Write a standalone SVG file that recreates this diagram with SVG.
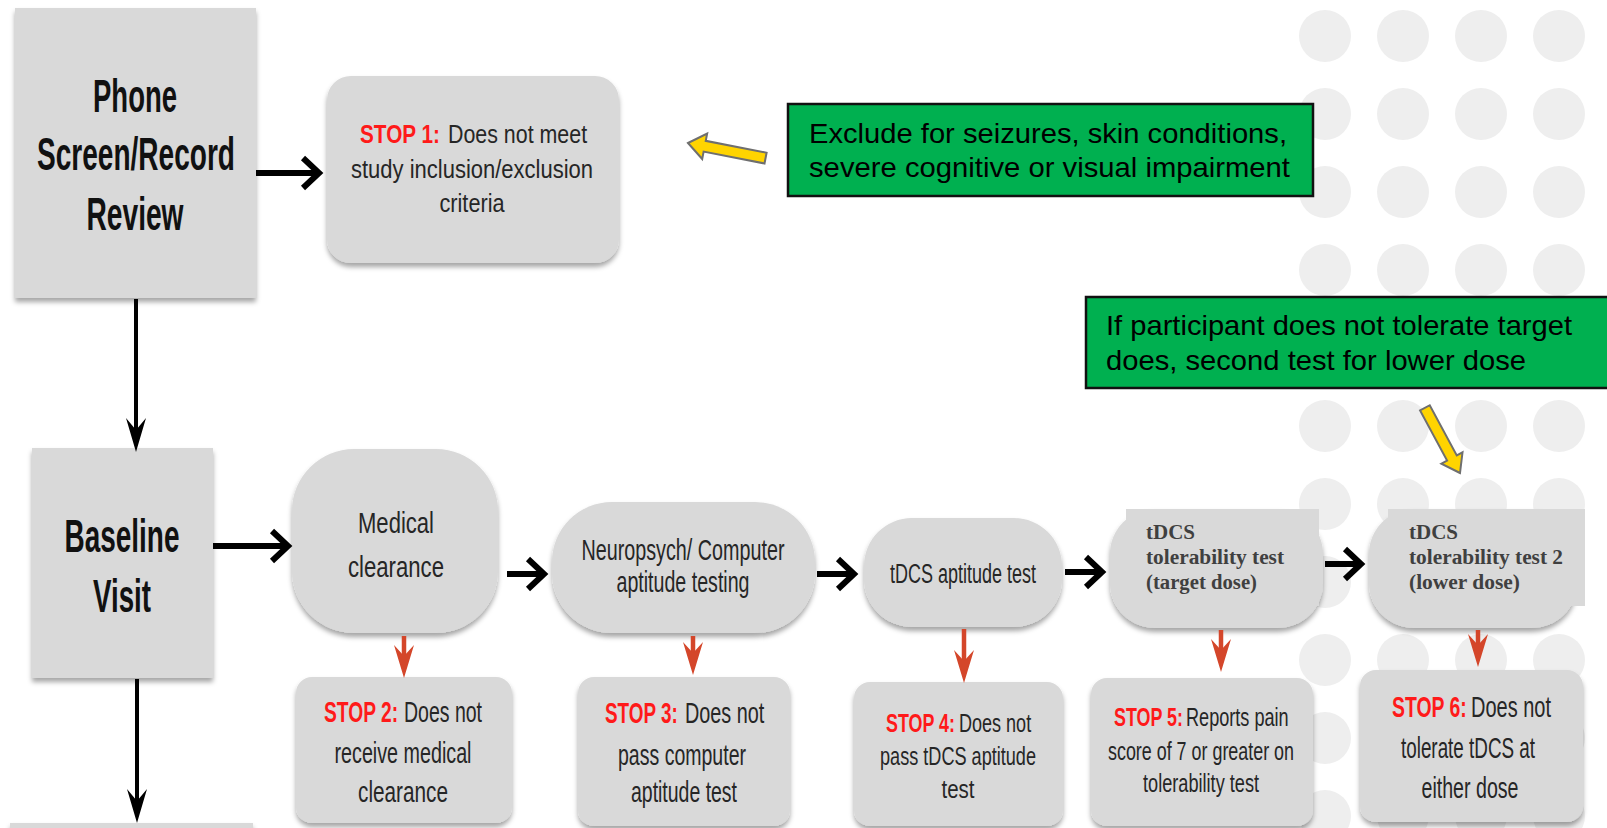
<svg xmlns="http://www.w3.org/2000/svg" width="1607" height="828" viewBox="0 0 1607 828">
<defs>
<style>
.bg{fill:#eeeeee}
.nd{fill:#d9d9d9;filter:url(#sh)}
.ov{fill:#d9d9d9}
.t{font-family:"Liberation Sans Narrow","Liberation Sans",Arial,sans-serif;fill:#262626}
.big{font-family:"Liberation Sans Narrow","Liberation Sans",Arial,sans-serif;font-weight:bold;font-size:46px;fill:#111}
.red{font-family:"Liberation Sans Narrow","Liberation Sans",Arial,sans-serif;fill:#ff1a1a;font-weight:bold}
.tm{font-family:"Liberation Serif","Times New Roman",serif;font-weight:bold;font-size:20px;fill:#404040}
.gr{fill:#00b050;stroke:#111;stroke-width:2.5}
.gt{font-family:"Liberation Sans",Arial,sans-serif;font-size:28px;fill:#000}
.ya{fill:#ffd400;stroke:#6f6f6f;stroke-width:2;stroke-linejoin:miter}
.ch{fill:none;stroke:#000;stroke-width:6;marker-end:url(#hb)}
.cv{fill:none;stroke:#000;stroke-width:4;marker-end:url(#vb)}
.cr{fill:none;stroke:#d4462a;stroke-width:4.5;marker-end:url(#rb)}
</style>
<filter id="sh" x="-10%" y="-10%" width="120%" height="130%">
<feDropShadow dx="0" dy="4" stdDeviation="2.5" flood-color="#000" flood-opacity="0.35"/>
</filter>
<marker id="hb" markerUnits="userSpaceOnUse" overflow="visible" orient="auto" refX="0" refY="0" markerWidth="30" markerHeight="40">
<path d="M-16,-15 L0,0 L-16,15" fill="none" stroke="#000" stroke-width="6"/>
</marker>
<marker id="vb" markerUnits="userSpaceOnUse" overflow="visible" orient="auto" refX="0" refY="0" markerWidth="40" markerHeight="24">
<path d="M20,0 L-14,-10 L-2,0 L-14,10 Z" fill="#000"/>
</marker>
<marker id="rb" markerUnits="userSpaceOnUse" overflow="visible" orient="auto" refX="0" refY="0" markerWidth="40" markerHeight="24">
<path d="M20,0 L-13,-10 L-2,0 L-13,10 Z" fill="#d4462a"/>
</marker>
</defs>
<rect width="1607" height="828" fill="#fff"/>
<g id="dots">
<circle class="bg" cx="1325" cy="36" r="26"/><circle class="bg" cx="1403" cy="36" r="26"/><circle class="bg" cx="1481" cy="36" r="26"/><circle class="bg" cx="1559" cy="36" r="26"/>
<circle class="bg" cx="1325" cy="114" r="26"/><circle class="bg" cx="1403" cy="114" r="26"/><circle class="bg" cx="1481" cy="114" r="26"/><circle class="bg" cx="1559" cy="114" r="26"/>
<circle class="bg" cx="1325" cy="192" r="26"/><circle class="bg" cx="1403" cy="192" r="26"/><circle class="bg" cx="1481" cy="192" r="26"/><circle class="bg" cx="1559" cy="192" r="26"/>
<circle class="bg" cx="1325" cy="270" r="26"/><circle class="bg" cx="1403" cy="270" r="26"/><circle class="bg" cx="1481" cy="270" r="26"/><circle class="bg" cx="1559" cy="270" r="26"/>
<circle class="bg" cx="1325" cy="348" r="26"/><circle class="bg" cx="1403" cy="348" r="26"/><circle class="bg" cx="1481" cy="348" r="26"/><circle class="bg" cx="1559" cy="348" r="26"/>
<circle class="bg" cx="1325" cy="426" r="26"/><circle class="bg" cx="1403" cy="426" r="26"/><circle class="bg" cx="1481" cy="426" r="26"/><circle class="bg" cx="1559" cy="426" r="26"/>
<circle class="bg" cx="1325" cy="504" r="26"/><circle class="bg" cx="1403" cy="504" r="26"/><circle class="bg" cx="1481" cy="504" r="26"/><circle class="bg" cx="1559" cy="504" r="26"/>
<circle class="bg" cx="1325" cy="582" r="26"/><circle class="bg" cx="1403" cy="582" r="26"/><circle class="bg" cx="1481" cy="582" r="26"/><circle class="bg" cx="1559" cy="582" r="26"/>
<circle class="bg" cx="1325" cy="660" r="26"/><circle class="bg" cx="1403" cy="660" r="26"/><circle class="bg" cx="1481" cy="660" r="26"/><circle class="bg" cx="1559" cy="660" r="26"/>
<circle class="bg" cx="1325" cy="738" r="26"/><circle class="bg" cx="1403" cy="738" r="26"/><circle class="bg" cx="1481" cy="738" r="26"/><circle class="bg" cx="1559" cy="738" r="26"/>
<circle class="bg" cx="1325" cy="816" r="26"/><circle class="bg" cx="1403" cy="816" r="26"/><circle class="bg" cx="1481" cy="816" r="26"/><circle class="bg" cx="1559" cy="816" r="26"/>
</g>
<g id="phone">
<rect class="nd" x="15" y="8" width="241" height="290"/>
<text class="big" x="135" y="112" text-anchor="middle" textLength="84" lengthAdjust="spacingAndGlyphs">Phone</text>
<text class="big" x="136" y="170" text-anchor="middle" textLength="198" lengthAdjust="spacingAndGlyphs">Screen/Record</text>
<text class="big" x="135" y="230" text-anchor="middle" textLength="97" lengthAdjust="spacingAndGlyphs">Review</text>
</g>
<g id="stop1">
<rect class="nd" x="327" y="76" width="292" height="187" rx="24"/>
<text class="red" font-size="25" transform="translate(360,143) scale(0.65,1)" textLength="123" lengthAdjust="spacingAndGlyphs">STOP 1:</text>
<text class="t" font-size="25" transform="translate(448,143) scale(0.65,1)" textLength="214" lengthAdjust="spacingAndGlyphs">Does not meet</text>
<text class="t" font-size="25" x="472" y="178" text-anchor="middle" textLength="242" lengthAdjust="spacingAndGlyphs">study  inclusion/exclusion</text>
<text class="t" font-size="25" x="472" y="212" text-anchor="middle" textLength="65" lengthAdjust="spacingAndGlyphs">criteria</text>
</g>
<g id="note1">
<rect class="gr" x="788" y="104" width="525" height="92"/>
<text class="gt" x="809" y="143" textLength="478" lengthAdjust="spacingAndGlyphs">Exclude for seizures, skin conditions,</text>
<text class="gt" x="809" y="177" textLength="481" lengthAdjust="spacingAndGlyphs">severe cognitive or visual impairment</text>
</g>
<g id="arrow1">
<polygon class="ya" transform="translate(688,143) rotate(11)" points="0,0 17,-13 17,-5.5 79,-5.5 79,5.5 17,5.5 17,13"/>
</g>
<g id="note2">
<rect class="gr" x="1086" y="297" width="530" height="91"/>
<text class="gt" x="1106" y="335" textLength="466" lengthAdjust="spacingAndGlyphs">If participant does not tolerate target</text>
<text class="gt" x="1106" y="370" textLength="420" lengthAdjust="spacingAndGlyphs">does, second test for lower dose</text>
</g>
<g id="arrow2">
<polygon class="ya" transform="translate(1460,473) rotate(-118.3)" points="0,0 17,-12 17,-5.5 74,-5.5 74,5.5 17,5.5 17,12"/>
</g>
<g id="baseline">
<rect class="nd" x="32" y="448" width="181" height="230"/>
<text class="big" x="122" y="552" text-anchor="middle" textLength="115" lengthAdjust="spacingAndGlyphs">Baseline</text>
<text class="big" x="122" y="612" text-anchor="middle" textLength="58" lengthAdjust="spacingAndGlyphs">Visit</text>
</g>
<g id="next">
<rect class="nd" x="10" y="823" width="243" height="20"/>
</g>
<g id="medical">
<rect class="nd" x="292" y="449" width="206" height="184" rx="62"/>
<text class="t" font-size="30" x="396" y="533" text-anchor="middle" textLength="76" lengthAdjust="spacingAndGlyphs">Medical</text>
<text class="t" font-size="30" x="396" y="577" text-anchor="middle" textLength="96" lengthAdjust="spacingAndGlyphs">clearance</text>
</g>
<g id="neuro">
<rect class="nd" x="552" y="502" width="263" height="131" rx="60"/>
<text class="t" font-size="29" x="683" y="560" text-anchor="middle" textLength="203" lengthAdjust="spacingAndGlyphs">Neuropsych/ Computer</text>
<text class="t" font-size="29" x="683" y="592" text-anchor="middle" textLength="133" lengthAdjust="spacingAndGlyphs">aptitude testing</text>
</g>
<g id="aptitude">
<rect class="nd" x="864" y="518" width="198" height="109" rx="48"/>
<text class="t" font-size="27" x="963" y="583" text-anchor="middle" textLength="146" lengthAdjust="spacingAndGlyphs">tDCS aptitude test</text>
</g>
<g id="tol1">
<rect class="nd" x="1110" y="509" width="213" height="119" rx="45"/>
<rect class="ov" x="1126" y="509" width="193" height="97"/>
<text class="tm" x="1146" y="539" textLength="49" lengthAdjust="spacingAndGlyphs">tDCS</text>
<text class="tm" x="1146" y="564" textLength="138" lengthAdjust="spacingAndGlyphs">tolerability test</text>
<text class="tm" x="1146" y="589" textLength="111" lengthAdjust="spacingAndGlyphs">(target dose)</text>
</g>
<g id="tol2">
<rect class="nd" x="1369" y="509" width="208" height="119" rx="45"/>
<rect class="ov" x="1388" y="509" width="197" height="97"/>
<text class="tm" x="1409" y="539" textLength="49" lengthAdjust="spacingAndGlyphs">tDCS</text>
<text class="tm" x="1409" y="564" textLength="154" lengthAdjust="spacingAndGlyphs">tolerability test 2</text>
<text class="tm" x="1409" y="589" textLength="111" lengthAdjust="spacingAndGlyphs">(lower dose)</text>
</g>
<g id="stop2">
<rect class="nd" x="296" y="677" width="216" height="146" rx="16"/>
<text class="red" font-size="29" transform="translate(324,722) scale(0.65,1)" textLength="114" lengthAdjust="spacingAndGlyphs">STOP 2:</text>
<text class="t" font-size="29" transform="translate(404,722) scale(0.65,1)" textLength="120" lengthAdjust="spacingAndGlyphs">Does not</text>
<text class="t" font-size="29" x="403" y="763" text-anchor="middle" textLength="137" lengthAdjust="spacingAndGlyphs">receive medical</text>
<text class="t" font-size="29" x="403" y="802" text-anchor="middle" textLength="90" lengthAdjust="spacingAndGlyphs">clearance</text>
</g>
<g id="stop3">
<rect class="nd" x="578" y="677" width="212" height="149" rx="16"/>
<text class="red" font-size="29" transform="translate(605,723) scale(0.65,1)" textLength="112" lengthAdjust="spacingAndGlyphs">STOP 3:</text>
<text class="t" font-size="29" transform="translate(685,723) scale(0.65,1)" textLength="122" lengthAdjust="spacingAndGlyphs">Does not</text>
<text class="t" font-size="29" x="682" y="765" text-anchor="middle" textLength="128" lengthAdjust="spacingAndGlyphs">pass computer</text>
<text class="t" font-size="29" x="684" y="802" text-anchor="middle" textLength="106" lengthAdjust="spacingAndGlyphs">aptitude test</text>
</g>
<g id="stop4">
<rect class="nd" x="854" y="682" width="209" height="144" rx="16"/>
<text class="red" font-size="26" transform="translate(886,732) scale(0.65,1)" textLength="106" lengthAdjust="spacingAndGlyphs">STOP 4:</text>
<text class="t" font-size="26" transform="translate(959,732) scale(0.65,1)" textLength="111" lengthAdjust="spacingAndGlyphs">Does not</text>
<text class="t" font-size="26" x="958" y="765" text-anchor="middle" textLength="156" lengthAdjust="spacingAndGlyphs">pass tDCS aptitude</text>
<text class="t" font-size="26" x="958" y="798" text-anchor="middle" textLength="33" lengthAdjust="spacingAndGlyphs">test</text>
</g>
<g id="stop5">
<rect class="nd" x="1091" y="678" width="222" height="148" rx="16"/>
<text class="red" font-size="25" transform="translate(1114,726) scale(0.65,1)" textLength="106" lengthAdjust="spacingAndGlyphs">STOP 5:</text>
<text class="t" font-size="25" transform="translate(1186,726) scale(0.65,1)" textLength="158" lengthAdjust="spacingAndGlyphs">Reports pain</text>
<text class="t" font-size="25" x="1201" y="760" text-anchor="middle" textLength="186" lengthAdjust="spacingAndGlyphs">score of 7 or greater on</text>
<text class="t" font-size="25" x="1201" y="792" text-anchor="middle" textLength="116" lengthAdjust="spacingAndGlyphs">tolerability test</text>
</g>
<g id="stop6">
<rect class="nd" x="1360" y="670" width="223" height="152" rx="16"/>
<text class="red" font-size="29" transform="translate(1392,717) scale(0.65,1)" textLength="115" lengthAdjust="spacingAndGlyphs">STOP 6:</text>
<text class="t" font-size="29" transform="translate(1471,717) scale(0.65,1)" textLength="123" lengthAdjust="spacingAndGlyphs">Does not</text>
<text class="t" font-size="29" x="1468" y="758" text-anchor="middle" textLength="134" lengthAdjust="spacingAndGlyphs">tolerate tDCS at</text>
<text class="t" font-size="29" x="1470" y="798" text-anchor="middle" textLength="97" lengthAdjust="spacingAndGlyphs">either dose</text>
</g>
<g id="connectors">
<path class="ch" d="M256,173 H319"/>
<path class="ch" d="M213,546 H288"/>
<path class="ch" d="M507,574 H544"/>
<path class="ch" d="M817,574 H854"/>
<path class="ch" d="M1065,572 H1102"/>
<path class="ch" d="M1325,564 H1361"/>
<path class="cv" d="M136,299 V432"/>
<path class="cv" d="M137,679 V803"/>
<path class="cr" d="M404,636 V658"/>
<path class="cr" d="M693,636 V655"/>
<path class="cr" d="M964,629 V663"/>
<path class="cr" d="M1221,630 V652"/>
<path class="cr" d="M1478,630 V647"/>
</g>
</svg>
